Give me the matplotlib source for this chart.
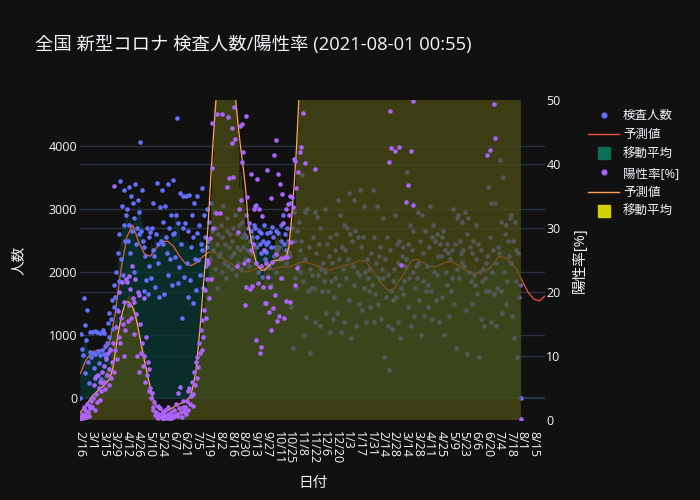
import matplotlib
matplotlib.use("Agg")
import matplotlib.pyplot as plt
import numpy as np
import pandas as pd
from matplotlib.lines import Line2D
from matplotlib.transforms import blended_transform_factory

plt.rcParams['font.family'] = ['Open Sans', 'Noto Sans CJK JP', 'DejaVu Sans']

# ---------------- data ----------------
n_categories = 560          # daily categories from 2020-02-16
tick_labels = ['2/16', '3/1', '3/15', '3/29', '4/12', '4/26', '5/10', '5/24', '6/7', '6/21',
               '7/5', '7/19', '8/2', '8/16', '8/30', '9/13', '9/27', '10/11', '10/25', '11/8',
               '11/22', '12/6', '12/20', '1/3', '1/17', '1/31', '2/14', '2/28', '3/14', '3/28',
               '4/11', '4/25', '5/9', '5/23', '6/6', '6/20', '7/4', '7/18', '8/1', '8/15']

# daily test counts (検査人数)
tests = [
    0, 1020, 780, 680, 1590, 1160, 400, 920, 1400, 570, 240, 1050, 730, 650,
    1050, 720, 480, 1060, 700, 350, 1040, 740, 560, 1030, 690, 300, 760, 1080,
    700, 1030, 820, 650, 880, 1190, 970, 1350, 780, 1250, 1560, 1100, 1800, 1450,
    1600, 2000, 1400, 2300, 1850, 2600, 3450, 2200, 3050, 1950, 2750, 3300, 2500, 2900,
    3000, 2500, 3350, 2750, 2300, 3200, 2650, 3100, 2000, 2850, 3400, 2450, 2700, 3150,
    2950, 2600, 4060, 2650, 3300, 2500, 1700, 2400, 2250, 1870, 2700, 1650, 2550, 2100,
    2630, 1900, 2700, 2350, 3100, 2250, 1760, 2600, 3410, 2150, 2450, 1600, 3030, 2500,
    3300, 2800, 2450, 1650, 3050, 2550, 2300, 1950, 3400, 2700, 2200, 2900, 1800, 2600,
    3460, 2620, 2240, 2900, 4440, 2780, 1830, 2080, 3250, 2450, 1270, 3200, 2700, 1920,
    2780, 3200, 2150, 1600, 2650, 3230, 1870, 2400, 2900, 1510, 2550, 3100, 2200, 1710,
    2620, 3200, 2190, 2750, 1950, 2450, 3330, 2350, 1750, 2900, 2550, 2100, 3000, 2400,
    2500, 2800, 2200, 3100, 1900, 2650, 2350, 2950, 2050, 2700, 2450, 1750, 2600, 2250,
    2300, 2750, 2000, 2550, 3050, 2150, 2450, 1900, 2650, 2850, 2100, 2400, 2600, 2250,
    2500, 2050, 2700, 2300, 2900, 1950, 2600, 2400, 2150, 2750, 2350, 2050, 2550, 2800,
    2400, 2600, 2200, 2550, 2900, 2350, 2700, 2100, 2500, 2650, 2300, 2550, 2450, 2750,
    2700, 3060, 2400, 2550, 2000, 2650, 2450, 2300, 2620, 1920, 2500, 2750, 2200, 2450,
    2320, 2620, 2480, 2100, 2630, 2400, 1800, 2710, 2550, 2250, 2400, 2000, 2650, 2350,
    2620, 2400, 2200, 2750, 2500, 1900, 2900, 2450, 2600, 2150, 2350, 2700, 2500, 2300,
    3100, 2250, 1450, 2700, 800, 2950, 1900, 2500, 1750, 2650, 2100, 2800, 2000, 2350,
    2490, 3540, 1850, 1000, 2950, 2200, 1280, 3000, 1700, 2400, 710, 2050, 1750, 1950,
    2550, 1750, 2950, 1200, 2300, 2870, 1950, 2450, 1150, 2700, 2050, 1700, 2150, 1850,
    2000, 3000, 1350, 2450, 1700, 2250, 1050, 2550, 1850, 2150, 1250, 1600, 2350, 1900,
    2600, 1350, 3150, 2200, 1800, 2900, 1050, 2400, 2050, 2750, 1200, 2350, 1900, 2700,
    2200, 3250, 1550, 2600, 950, 2500, 2100, 3150, 1800, 2650, 1150, 2000, 2550, 1500,
    1950, 3300, 2400, 1400, 2550, 1750, 3050, 2000, 1200, 2200, 1900, 1700, 2050, 1450,
    2300, 1800, 3300, 1200, 2550, 1650, 2150, 3050, 1500, 2250, 1900, 2400, 1250, 2050,
    1900, 2850, 650, 2200, 1600, 2550, 1150, 1950, 440, 2350, 1700, 1100, 1550, 1850,
    2050, 2900, 1600, 2450, 1200, 2150, 2500, 950, 1750, 2250, 1650, 2400, 1850, 2100,
    2200, 3590, 1450, 2450, 1900, 2750, 1150, 2350, 2000, 2650, 1300, 1750, 2100, 1900,
    2150, 2950, 1550, 2500, 1000, 2900, 1850, 2300, 1300, 2650, 1700, 2100, 1450, 1800,
    2400, 3050, 1700, 2550, 1250, 2750, 2000, 2500, 1550, 2600, 1950, 2250, 1200, 2450,
    2250, 2550, 1600, 2650, 1000, 2350, 2000, 2450, 1800, 2300, 1300, 2200, 1700, 1900,
    2350, 3000, 1500, 2450, 800, 2850, 2050, 2900, 1900, 2500, 2300, 2800, 2150, 2350,
    2100, 2950, 1400, 2600, 700, 2850, 2000, 2400, 1850, 2300, 1500, 2500, 1950, 1800,
    2200, 2750, 1650, 2450, 650, 2000, 1250, 2350, 1850, 2050, 1150, 1900, 1700, 2150,
    2250, 3350, 1700, 2550, 1200, 3100, 2000, 2350, 1650, 3100, 1150, 2150, 1750, 2400,
    2300, 3780, 1700, 2800, 1350, 3500, 2000, 2600, 1500, 2750, 1850, 2500, 2250, 2850,
    2150, 2900, 1300, 2500, 950, 2800, 1850, 2350, 650, 2300, 1600, 1800, 0,
]

# daily positivity rate [%] (陽性率); values above 50 fall off the top of the chart
positivity = [
    0.2, 0.5, 1.0, 0.3, 2.0, 0.8, 1.5, 0.4, 2.5, 1.2, 0.6, 1.8, 2.2, 3.0,
    2.0, 3.5, 5.5, 1.5, 6.5, 4.0, 2.8, 7.0, 5.0, 3.2, 6.0, 4.5, 7.5, 5.8,
    6.0, 8.5, 4.8, 9.5, 7.0, 10.5, 5.5, 8.0, 11.0, 6.5, 9.0, 12.0, 7.5, 36.5,
    11.0, 14.5, 9.5, 17.0, 13.0, 20.0, 12.0, 16.0, 21.5, 15.0, 10.0, 18.5, 14.0, 22.0,
    21.5, 15.5, 22.5, 18.0, 20.5, 16.0, 24.0, 19.0, 13.5, 18.5, 22.0, 16.5, 10.0, 20.0,
    19.5, 7.5, 15.0, 10.5, 12.0, 8.5, 19.0, 10.0, 6.0, 13.0, 7.0, 9.0, 4.5, 8.0,
    5.0, 3.5, 4.2, 2.0, 1.5, 2.8, 0.8, 1.2, 0.5, 2.2, 0.3, 1.0, 1.8, 0.6,
    0.4, 1.2, 0.2, 0.8, 1.5, 0.5, 0.3, 1.0, 2.0, 0.6, 0.2, 1.3, 0.7, 0.4,
    0.5, 1.5, 0.8, 2.5, 1.0, 4.2, 0.6, 1.8, 5.2, 1.2, 0.4, 2.0, 3.0, 1.4,
    2.0, 1.0, 3.0, 4.5, 1.5, 5.0, 2.5, 3.8, 6.0, 2.2, 4.0, 7.5, 5.5, 9.0,
    6.5, 9.8, 8.3, 12.0, 10.5, 14.0, 11.0, 15.6, 13.0, 17.2, 20.3, 16.0, 22.0, 25.0,
    24.5, 19.0, 28.4, 22.0, 39.4, 46.4, 30.0, 62, 55, 32.3, 75, 47.8, 68, 85,
    32.3, 90, 70, 47.8, 95, 80, 110, 65, 100, 36.4, 47.3, 37.8, 85, 120,
    45.6, 43.3, 38.0, 48.9, 43.9, 75, 90, 24.0, 29.4, 33.0, 46.0, 34.4, 40.3, 46.2,
    41.9, 24.5, 18.0, 47.5, 20.8, 34.8, 25.0, 30.8, 20.5, 26.5, 38.5, 21.0, 27.5, 33.0,
    33.4, 24.5, 12.5, 37.6, 21.4, 33.0, 10.5, 24.0, 11.4, 31.9, 20.8, 26.5, 18.3, 24.5,
    18.3, 39.0, 22.3, 16.9, 20.8, 34.7, 14.0, 24.7, 17.5, 41.4, 19.5, 26.0, 43.8, 15.5,
    38.4, 16.3, 36.9, 25.3, 22.2, 35.3, 30.8, 16.0, 25.5, 33.0, 18.6, 25.5, 33.8, 32.0,
    35.0, 18.4, 27.8, 34.8, 33.3, 40.8, 40.5, 21.1, 36.3, 23.8, 38.8, 85, 70, 41.9,
    42.7, 110, 48.0, 95, 40.2, 130, 80, 150, 115, 120, 100, 160, 90, 140,
    85, 120, 39.2, 140, 95, 170, 110, 75, 150, 130, 90, 180, 115, 160,
    140, 200, 120, 175, 95, 220, 160, 130, 190, 240, 150, 110, 210, 180,
    230, 170, 260, 140, 200, 280, 190, 250, 160, 300, 220, 180, 270, 240,
    260, 200, 310, 230, 180, 290, 250, 330, 210, 270, 240, 300, 190, 280,
    250, 300, 210, 270, 190, 240, 280, 170, 230, 200, 260, 150, 220, 180,
    170, 210, 140, 190, 120, 160, 200, 110, 150, 130, 180, 100, 140, 120,
    110, 90, 130, 80, 120, 100, 70, 140, 40.3, 48.3, 42.5, 95, 75, 60,
    85, 42.0, 70, 110, 65, 90, 42.7, 120, 24.2, 95, 75, 130, 80, 100,
    34.0, 95, 36.7, 120, 85, 140, 42.0, 110, 49.8, 33.6, 130, 160, 100, 150,
    180, 130, 210, 160, 240, 190, 150, 220, 270, 200, 250, 180, 230, 290,
    260, 210, 300, 240, 190, 280, 230, 320, 250, 200, 270, 310, 220, 260,
    230, 280, 190, 250, 210, 170, 240, 200, 160, 220, 180, 140, 190, 150,
    130, 170, 110, 150, 120, 90, 140, 100, 130, 80, 110, 95, 70, 120,
    90, 65, 110, 80, 60, 100, 75, 95, 55, 85, 70, 105, 65, 80,
    75, 60, 95, 70, 85, 58, 100, 72, 65, 90, 62, 80, 70, 95,
    41.4, 85, 70, 42.2, 95, 75, 110, 90, 49.4, 44.0, 120, 100, 140, 115,
    160, 130, 190, 150, 210, 170, 240, 200, 260, 220, 290, 250, 310, 270,
    330, 290, 360, 310, 380, 340, 400, 350, 370, 420, 390, 410, 0.2,
]

# prediction curve for test counts (予測値, left axis)
pred_tests_day = [0, 7, 14, 21, 28, 35, 42, 49, 56, 63, 70, 77, 84, 91, 98, 105, 112, 119,
                  126, 133, 140, 147, 154, 161, 168, 175, 182, 189, 196, 203, 210, 217, 224,
                  231, 238, 245, 252, 259, 266, 273, 280, 287, 294, 301, 308, 315, 322, 329,
                  336, 343, 350, 357, 364, 371, 378, 385, 392, 399, 406, 413, 420, 427, 434,
                  441, 448, 455, 462, 469, 476, 483, 490, 497, 504, 511, 518, 525, 532, 539,
                  546, 553, 559]
pred_tests = [390, 610, 730, 760, 760, 850, 1350, 2050, 2560, 2745, 2480, 2290, 2250, 2370,
              2480, 2490, 2410, 2260, 2140, 2100, 2150, 2240, 2310, 2320, 2250, 2180, 2130,
              2060, 2000, 2010, 2040, 2080, 2050, 2040, 2070, 2080, 2080, 2120, 2160, 2150,
              2120, 2090, 2050, 2030, 2060, 2100, 2110, 2140, 2180, 2180, 2060, 1930, 1800,
              1700, 1740, 1880, 2020, 2190, 2200, 2150, 2090, 2080, 2120, 2160, 2160, 2110,
              2040, 1990, 1980, 2000, 2030, 2120, 2250, 2230, 2150, 2050, 1860, 1680, 1570,
              1540, 1615]

# prediction curve for positivity (予測値, right axis)
pred_pos_day = [0, 7, 14, 21, 28, 35, 39, 42, 45, 48, 51, 54, 57, 60, 63, 66, 69, 72, 75,
                78, 81, 84, 87, 90, 94, 100, 106, 112, 118, 124, 130, 133, 136, 139, 142,
                145, 148, 151, 154, 157, 160, 163, 166, 170, 175, 180, 184, 187, 190, 193,
                196, 199, 202, 205, 208, 211, 214, 218, 222, 226, 232, 238, 244, 248, 251,
                254, 257, 260, 263, 266, 270, 280, 300, 330, 360, 390, 420, 450, 480, 510,
                540, 559]
pred_pos = [1.2, 2.4, 3.7, 4.6, 5.3, 6.4, 8.0, 10.6, 13.2, 15.3, 17.0, 18.2, 18.5, 18.2,
            17.6, 16.4, 14.7, 12.6, 10.5, 8.7, 6.9, 5.2, 3.5, 2.5, 1.7, 1.3, 1.5, 2.0, 2.4,
            2.8, 3.3, 3.8, 5.6, 7.6, 11.5, 15.8, 21.0, 25.5, 31.0, 38.0, 44.0, 49.5, 55, 63,
            69, 68, 58, 50, 46, 42.5, 39.5, 36, 31, 28.5, 26.5, 25, 24, 23.4, 23.4, 24, 24.8,
            25, 25, 25.5, 27, 31, 36, 42, 50, 57, 66, 80, 110, 160, 200, 150, 180, 200, 170,
            120, 180, 250]

# ---------------- derived (moving averages, as in the chart) ----------------
days = np.arange(len(tests))
ma_tests = pd.Series(tests).rolling(7, center=True, min_periods=1).mean().to_numpy()
ma_pos = pd.Series(positivity).rolling(7, center=True, min_periods=1).mean().to_numpy()

# ---------------- figure ----------------
BG = '#111111'
GRID = '#283442'
TXT = '#f2f5fa'

fig = plt.figure(figsize=(7, 5), dpi=100, facecolor=BG)
ax1 = fig.add_axes([80 / 700, 80 / 500, 465 / 700, 320 / 500])
ax1.set_facecolor(BG)
ax2 = ax1.twinx()

ax1.set_xlim(-0.5, n_categories - 0.5)
ax1.set_ylim(-349, 4730)
ax2.set_ylim(0, 50)

# grid lines (both axes, drawn beneath all traces)
for v in [1000, 2000, 3000, 4000]:
    ax1.axhline(v, color=GRID, lw=1, zorder=0)
ax1.axhline(0, color=GRID, lw=1.6, zorder=0)
tr = blended_transform_factory(ax1.transAxes, ax2.transData)
for v in [10, 20, 30, 40]:
    ax1.add_line(Line2D([0, 1], [v, v], transform=tr, color=GRID, lw=1, zorder=0))

# daily bars of the moving averages (drawn as one stepped outline, one step per day)
edges_x = np.concatenate([[days[0] - 0.5], days + 0.5])


def step_bars(ax, vals, color, alpha):
    xs = np.repeat(edges_x, 2)[1:-1]
    ys = np.repeat(vals, 2)
    ax.fill_between(xs, 0 if ax is ax2 else 0, ys, color=color, alpha=alpha,
                    linewidth=0, zorder=1)


# left-axis traces
step_bars(ax1, ma_tests, (7 / 255, 57 / 255, 50 / 255), 0.75)
ax1.plot(pred_tests_day, pred_tests, color='#EF553B', lw=0.9, zorder=2)
ax1.scatter(days, tests, s=11, color='#636EFA', linewidths=0, zorder=3)

# right-axis traces
step_bars(ax2, ma_pos, (80 / 255, 80 / 255, 22 / 255), 0.7)
ax2.scatter(days, positivity, s=11, color='#AB63FA', linewidths=0, zorder=3)
ax2.plot(pred_pos_day, pred_pos, color='#FFA15A', lw=0.9, zorder=2)

for ax in (ax1, ax2):
    for s in ax.spines.values():
        s.set_visible(False)

ax1.set_yticks([0, 1000, 2000, 3000, 4000])
ax1.set_yticklabels(['0', '1000', '2000', '3000', '4000'])
ax2.set_yticks([0, 10, 20, 30, 40, 50])
ax2.set_yticklabels(['0', '10', '20', '30', '40', '50'])
ax1.tick_params(axis='y', colors=TXT, labelsize=9, length=0, pad=2)
ax2.tick_params(axis='y', colors=TXT, labelsize=9, length=0, pad=1)

tick_pos = [14 * k for k in range(len(tick_labels))]
ax1.set_xticks(tick_pos)
ax1.set_xticklabels(tick_labels, rotation=-90)
ax1.tick_params(axis='x', colors=TXT, labelsize=9, length=0, pad=8)

fig.text(35 / 700, 1 - 45 / 500, '全国 新型コロナ 検査人数/陽性率 (2021-08-01 00:55)',
         color=TXT, fontsize=13.2, ha='left', va='center')
fig.text(19 / 700, 1 - 260 / 500, '人数', color=TXT, fontsize=10.5, rotation=90,
         ha='center', va='center')
fig.text(580 / 700, 1 - 260 / 500, '陽性率[%]', color=TXT, fontsize=10.5, rotation=90,
         ha='center', va='center')
fig.text(313 / 700, 1 - 483 / 500, '日付', color=TXT, fontsize=10.5,
         ha='center', va='center')

handles = [
    Line2D([], [], marker='o', color='#636EFA', markersize=3.4, linestyle='None'),
    Line2D([], [], color='#EF553B', lw=1),
    Line2D([], [], marker='s', color='#0b6e55', markersize=8.5, linestyle='None'),
    Line2D([], [], marker='o', color='#AB63FA', markersize=3.4, linestyle='None'),
    Line2D([], [], color='#FFA15A', lw=1),
    Line2D([], [], marker='s', color='#d2d200', markersize=8.5, linestyle='None'),
]
labels = ['検査人数', '予測値', '移動平均', '陽性率[%]', '予測値', '移動平均']
fig.legend(handles, labels, loc='upper left', bbox_to_anchor=(588 / 700, 1 - 109 / 500),
           frameon=False, fontsize=9, labelcolor=TXT, handlelength=2.5,
           handletextpad=0.3, labelspacing=0.5, borderpad=0, borderaxespad=0)

fig.savefig('out.png', dpi=100, facecolor=BG)
